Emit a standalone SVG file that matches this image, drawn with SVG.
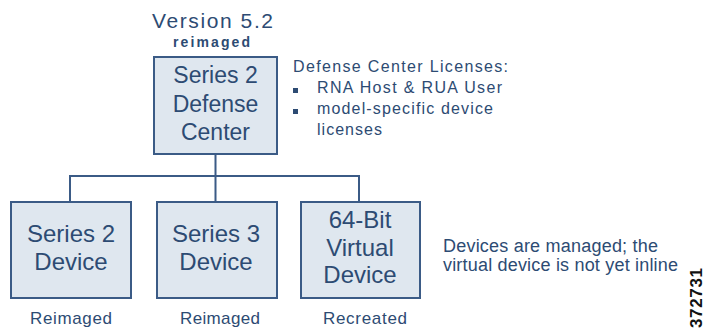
<svg xmlns="http://www.w3.org/2000/svg" width="705" height="332" viewBox="0 0 705 332">
<style>
.bx{fill:#dfe7ef;stroke:#3b5b86;stroke-width:2}
.t{font-family:"Liberation Sans",Arial,sans-serif;fill:#2d4b73}
.big{font-size:23px;text-anchor:middle}
.mid{font-size:17px;text-anchor:middle}
.sm{font-size:16px}
.ln{stroke:#3b5b86;stroke-width:2;fill:none}
</style>
<rect width="705" height="332" fill="#ffffff"/>
<g id="connectors">
<path class="ln" d="M215.5 155 V176 M70 176 H359 M70 175 V202 M215.5 176 V202 M359 175 V202"/>
</g>
<g id="dc">
<text class="t big" x="212.5" y="28" font-size="20" textLength="121" style="font-size:21px">Version 5.2</text>
<text class="t" x="211.5" y="47" font-size="14" font-weight="bold" text-anchor="middle" textLength="77">reimaged</text>
<rect class="bx" x="154" y="57" width="123" height="97"/>
<text class="t big" x="215.5" y="83">Series 2</text>
<text class="t big" x="215.5" y="112">Defense</text>
<text class="t big" x="215.5" y="140">Center</text>
</g>
<g id="licenses">
<text class="t sm" x="293" y="72" textLength="215">Defense Center Licenses:</text>
<rect x="293" y="88" width="5" height="5" fill="#2d4b73"/>
<text class="t sm" x="317" y="93" textLength="185">RNA Host &amp; RUA User</text>
<rect x="293" y="109" width="5" height="5" fill="#2d4b73"/>
<text class="t sm" x="317" y="114" textLength="176">model-specific device</text>
<text class="t sm" x="317" y="135" textLength="65">licenses</text>
</g>
<g id="dev1">
<rect class="bx" x="11" y="202" width="120" height="96"/>
<text class="t big" x="71" y="242" style="font-size:24px">Series 2</text>
<text class="t big" x="71" y="270" style="font-size:24px">Device</text>
<text class="t mid" x="71" y="324" textLength="82">Reimaged</text>
</g>
<g id="dev2">
<rect class="bx" x="157" y="202" width="120" height="96"/>
<text class="t big" x="216" y="242" style="font-size:24px">Series 3</text>
<text class="t big" x="216" y="270" style="font-size:24px">Device</text>
<text class="t mid" x="220" y="324" textLength="80">Reimaged</text>
</g>
<g id="dev3">
<rect class="bx" x="301" y="202" width="119" height="96"/>
<text class="t big" x="360" y="228" style="font-size:24px">64-Bit</text>
<text class="t big" x="360" y="256" style="font-size:24px">Virtual</text>
<text class="t big" x="360" y="283" style="font-size:24px">Device</text>
<text class="t mid" x="365" y="324" textLength="84">Recreated</text>
</g>
<g id="note">
<text class="t" x="443" y="252" font-size="18" textLength="215">Devices are managed; the</text>
<text class="t" x="443" y="271" font-size="18" textLength="235">virtual device is not yet inline</text>
</g>
<text x="0" y="0" transform="translate(702 298) rotate(-90)" font-family="Liberation Sans,Arial,sans-serif" font-size="17" font-weight="bold" text-anchor="middle" textLength="60" fill="#111">372731</text>
</svg>
